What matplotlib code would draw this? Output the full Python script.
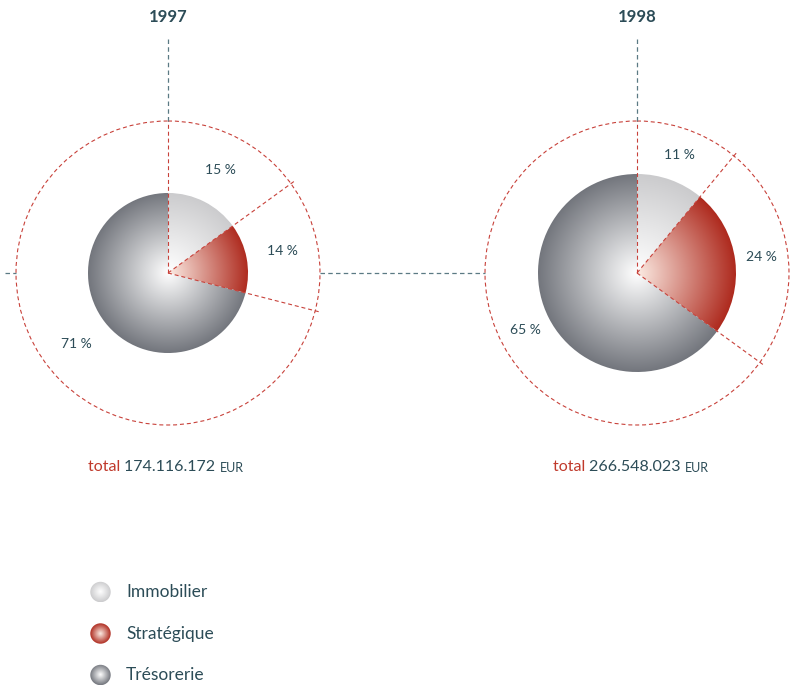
import numpy as np
import matplotlib
matplotlib.use("Agg")
import matplotlib.pyplot as plt
from matplotlib.patches import Wedge, Circle
from matplotlib.colors import to_rgb

# --- data -------------------------------------------------------------
years = ["1997", "1998"]
categories = ["Immobilier", "Stratégique", "Trésorerie"]
shares_1997 = [15, 14, 71]
shares_1998 = [11, 24, 65]
totals = [174116172, 266548023]
total_labels = ["174.116.172", "266.548.023"]

# --- style ------------------------------------------------------------
FONT = "Lato"
TEXT = "#2c4c57"
GUIDE = "#5b7a84"
RED_LINE = "#c8413a"
TOTAL_RED = "#c0392b"
cat_colors = {
    "Immobilier": ("#ffffff", "#cbcbcd"),
    "Stratégique": ("#fcece4", "#ae2a1e"),
    "Trésorerie": ("#ffffff", "#73767d"),
}

W, H = 792, 686
fig = plt.figure(figsize=(W / 100, H / 100), dpi=100)
ax = fig.add_axes([0, 0, 1, 1])
ax.set_xlim(0, W)
ax.set_ylim(H, 0)
ax.axis("off")

centers = [(168, 273), (637, 273)]
R_OUTER = 152
R_MAX = 99  # radius of the larger total's pie


def radial_fill(patch, cx, cy, r, c_in, c_out, gamma=1.0, z=2):
    n = 300
    xs = np.linspace(cx - r, cx + r, n)
    ys = np.linspace(cy - r, cy + r, n)
    X, Y = np.meshgrid(xs, ys)
    t = np.clip(np.hypot(X - cx, Y - cy) / r, 0, 1) ** gamma
    a, b = np.array(to_rgb(c_in)), np.array(to_rgb(c_out))
    img = a[None, None, :] * (1 - t[..., None]) + b[None, None, :] * t[..., None]
    im = ax.imshow(img, extent=(cx - r, cx + r, cy + r, cy - r),
                   origin="upper", interpolation="bilinear", zorder=z)
    ax.add_patch(patch)
    patch.set_visible(False)
    im.set_clip_path(patch)


def polar(cx, cy, r, ang_deg):
    # angle measured clockwise from 12 o'clock
    a = np.deg2rad(ang_deg)
    return cx + r * np.sin(a), cy - r * np.cos(a)


dash = (0, (3.6, 2.6))
all_shares = [shares_1997, shares_1998]

for (cx, cy), year, shares, total in zip(centers, years, all_shares, totals):
    r = R_MAX * np.sqrt(total / max(totals))

    # wedges, clockwise from the top
    start = 0.0
    bounds = []
    for cat, s in zip(categories, shares):
        span = s / 100 * 360
        # matplotlib Wedge angles are counter-clockwise from +x; y axis is inverted
        w = Wedge((cx, cy), r, start - 90, start + span - 90)
        radial_fill(w, cx, cy, r, *cat_colors[cat])
        mid = start + span / 2
        lr = (r + R_OUTER) / 2
        lx, ly = polar(cx, cy, lr, mid)
        ax.text(lx, ly, f"{s} %", fontsize=10, color=TEXT, family=FONT,
                ha="center", va="center", zorder=6)
        start += span
        bounds.append(start)

    # outer dashed ring
    ax.add_patch(Circle((cx, cy), R_OUTER, fill=False, ec=RED_LINE, lw=0.8,
                        ls=dash, zorder=4))
    # vertical guide: red inside the ring, grey above it
    ax.plot([cx, cx], [cy, cy - R_OUTER], color=RED_LINE, lw=0.8, ls=dash, zorder=5)
    ax.plot([cx, cx], [cy - R_OUTER, 38], color=GUIDE, lw=0.9, ls=dash, zorder=5)
    # segment boundaries extended to the ring
    for b in bounds[:-1]:
        x0, y0 = polar(cx, cy, 0, b)
        x1, y1 = polar(cx, cy, R_OUTER + 6, b)
        ax.plot([x0, x1], [y0, y1], color=RED_LINE, lw=0.8, ls=dash, zorder=5)

    ax.text(cx, 17, year, fontsize=12, fontweight="bold", color=TEXT,
            family=FONT, ha="center", va="center")

# horizontal grey guide between/around the rings
(c1x, cy0), (c2x, _) = centers
ax.plot([5, c1x - R_OUTER], [cy0, cy0], color=GUIDE, lw=0.9, ls=dash)
ax.plot([c1x + R_OUTER, c2x - R_OUTER], [cy0, cy0], color=GUIDE, lw=0.9, ls=dash)

# totals
for x0, lab in zip([88, 553], total_labels):
    t1 = ax.text(x0, 467, "total ", fontsize=11.5, color=TOTAL_RED, family=FONT,
                 ha="left", va="center")
    fig.canvas.draw()
    bb = t1.get_window_extent().transformed(ax.transData.inverted())
    t2 = ax.text(bb.x1, 467, lab + " ", fontsize=11.5, color=TEXT, family=FONT,
                 ha="left", va="center")
    fig.canvas.draw()
    bb2 = t2.get_window_extent().transformed(ax.transData.inverted())
    ax.text(bb2.x1, 467.5, "EUR", fontsize=9, color=TEXT, family=FONT,
            ha="left", va="center")

# legend
for i, cat in enumerate(categories):
    ly = 592 + i * 41.5
    c = Circle((100.5, ly), 10.2)
    radial_fill(c, 100.5, ly, 10.2, *cat_colors[cat])
    ax.text(126, ly, cat, fontsize=12.5, color=TEXT, family=FONT,
            ha="left", va="center")

fig.savefig("out.png", dpi=100)
